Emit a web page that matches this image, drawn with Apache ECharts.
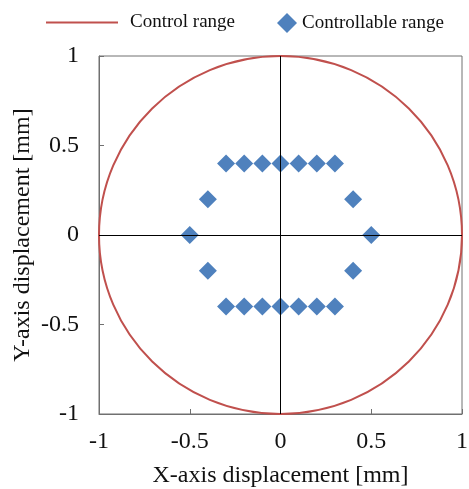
<!DOCTYPE html>
<html>
<head>
<meta charset="utf-8">
<script src="https://cdn.jsdelivr.net/npm/echarts@6/dist/echarts.min.js"></script>
<style>
  html, body { margin: 0; padding: 0; background: #fff; }
  #chart { width: 469px; height: 489px; }
</style>
</head>
<body>
<div id="chart"></div>
<script>
// control range: circle centre and radius in mm
var controlCircle = [[0, 0, 1]];
// controllable range points [x, y] in mm
var ctrlX = [-0.3, -0.2, -0.1, 0, 0.1, 0.2, 0.3, -0.4, 0.4, -0.5, 0.5, -0.4, 0.4, -0.3, -0.2, -0.1, 0, 0.1, 0.2, 0.3];
var ctrlY = [0.4, 0.4, 0.4, 0.4, 0.4, 0.4, 0.4, 0.2, 0.2, 0, 0, -0.2, -0.2, -0.4, -0.4, -0.4, -0.4, -0.4, -0.4, -0.4];
var axisTicks = [-1, -0.5, 0, 0.5, 1];

var font = '"Liberation Serif", "DejaVu Serif", serif';
var ctrlPts = ctrlX.map(function (x, i) { return [x, ctrlY[i]]; });

var chart = echarts.init(document.getElementById('chart'));

var axisCommon = {
  type: 'value',
  min: axisTicks[0],
  max: axisTicks[axisTicks.length - 1],
  interval: 0.5,
  splitLine: { show: false },
  axisLine: { onZero: false, lineStyle: { color: '#707070', width: 1 } },
  axisTick: { inside: true, length: 5, lineStyle: { color: '#707070' } },
  nameLocation: 'middle',
  nameMoveOverlap: false,
  nameTextStyle: { fontFamily: font, fontSize: 24, color: '#111' }
};

chart.setOption({
  animation: false,
  backgroundColor: '#fff',
  grid: {
    left: 99, right: 7, top: 56, bottom: 75,
    outerBoundsMode: 'none',
    show: true, borderColor: '#707070', borderWidth: 1
  },
  legend: [{
    data: [{ name: 'Control range', icon: 'rect' }],
    left: 46, top: 13, padding: 0,
    itemWidth: 72, itemHeight: 2,
    textStyle: { fontFamily: font, fontSize: 19, color: '#111', padding: [0, 0, 0, 7] }
  }, {
    data: [{ name: 'Controllable range', icon: 'diamond' }],
    left: 277, top: 13, padding: 0,
    itemWidth: 20, itemHeight: 20,
    textStyle: { fontFamily: font, fontSize: 19, color: '#111' }
  }],
  xAxis: Object.assign({}, axisCommon, {
    name: 'X-axis displacement [mm]',
    nameGap: 50,
    axisLabel: { fontFamily: font, fontSize: 24, color: '#111', margin: 16 }
  }),
  yAxis: Object.assign({}, axisCommon, {
    name: 'Y-axis displacement [mm]',
    nameGap: 64,
    axisLabel: { fontFamily: font, fontSize: 24, color: '#111', margin: 20 }
  }),
  series: [{
    name: 'Control range',
    type: 'custom',
    itemStyle: { color: '#C0504D' },
    data: controlCircle,
    renderItem: function (params, api) {
      var c = api.coord([api.value(0), api.value(1)]);
      var s = api.size([api.value(2), api.value(2)]);
      return {
        type: 'ellipse',
        shape: { cx: c[0], cy: c[1], rx: s[0], ry: s[1] },
        style: { fill: 'none', stroke: '#C0504D', lineWidth: 2 }
      };
    },
    z: 3
  }, {
    name: 'Controllable range',
    type: 'scatter',
    symbol: 'diamond',
    symbolSize: 18,
    itemStyle: { color: '#4F81BD', opacity: 1 },
    data: ctrlPts,
    markLine: {
      silent: true,
      symbol: 'none',
      label: { show: false },
      lineStyle: { color: '#000', width: 1, type: 'solid' },
      data: [{ xAxis: 0 }, { yAxis: 0 }]
    },
    z: 4
  }]
});
</script>
</body>
</html>
